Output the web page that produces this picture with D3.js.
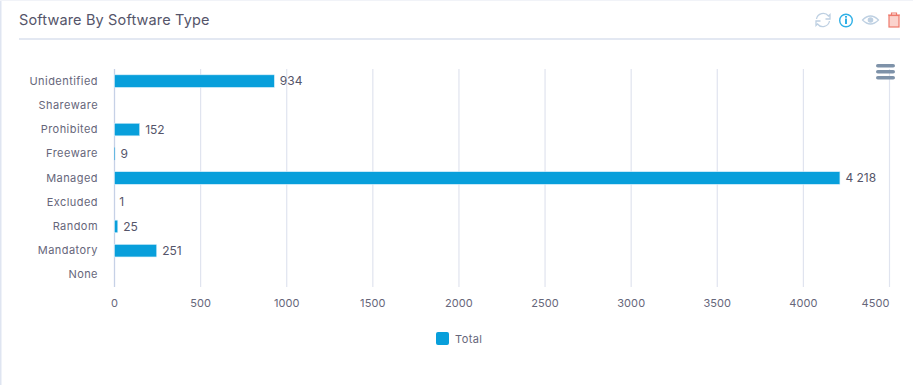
<!DOCTYPE html>
<html>
<head>
<meta charset="utf-8">
<script src="https://cdn.jsdelivr.net/npm/d3@7"></script>
<style>
  html, body { margin: 0; padding: 0; background: #fff; overflow: hidden; }
  text { font-family: Inter, "Open Sans", sans-serif; }
</style>
</head>
<body>
<div id="chart"></div>
<script>
const categories = ["Unidentified", "Shareware", "Prohibited", "Freeware", "Managed", "Excluded", "Random", "Mandatory", "None"];
const totals = [934, 0, 152, 9, 4218, 1, 25, 251, 0];
const valueLabels = ["934", "", "152", "9", "4 218", "1", "25", "251", ""];
const xTicks = [0, 500, 1000, 1500, 2000, 2500, 3000, 3500, 4000, 4500];
const seriesName = "Total";
const title = "Software By Software Type";

const width = 913, height = 385;
const svg = d3.select("#chart").append("svg")
    .attr("width", width).attr("height", height)
    .style("display", "block");

// card edges and header rule
svg.append("rect").attr("x", 0).attr("y", 0).attr("width", 1.5).attr("height", height).attr("fill", "#dfe5f1");
svg.append("rect").attr("x", 0).attr("y", 0).attr("width", width).attr("height", 1).attr("fill", "#f1f3f8");
svg.append("rect").attr("x", 19).attr("y", 38).attr("width", 881).attr("height", 2).attr("fill", "#e3e8f2");

svg.append("text").attr("x", 19).attr("y", 25)
    .attr("font-size", 14.5).attr("fill", "#55556a").attr("letter-spacing", 0.15)
    .text(title);

const x = d3.scaleLinear().domain([0, 4500]).range([114, 889]);
const y = d3.scaleBand().domain(categories).range([69, 287]).paddingInner(0.48).paddingOuter(0.24);

// grid
const grid = svg.append("g");
grid.selectAll("line").data(xTicks).enter().append("line")
    .attr("x1", d => x(d) + 0.5).attr("x2", d => x(d) + 0.5)
    .attr("y1", 69).attr("y2", 287)
    .attr("stroke", d => d === 0 ? "#c6d1e6" : "#e0e4ef")
    .attr("stroke-width", d => d === 0 ? 1.3 : 1.2);

// axes
const xAxis = svg.append("g").attr("transform", "translate(0,287)")
    .call(d3.axisBottom(x).tickValues(xTicks).tickFormat(d3.format("d")).tickSize(0).tickPadding(12));
xAxis.select(".domain").remove();
xAxis.selectAll("text").attr("font-size", 11).attr("fill", "#66667a").attr("letter-spacing", 0.1)
    .style("font-family", "Inter, sans-serif");
// last label is pulled in so it stays inside the plot
xAxis.selectAll("text").filter(d => d === 4500).attr("text-anchor", "end");

const yAxis = svg.append("g").attr("transform", "translate(98,0)")
    .call(d3.axisLeft(y).tickSize(0).tickPadding(0));
yAxis.select(".domain").remove();
yAxis.selectAll("text").attr("font-size", 11).attr("fill", "#66667a").attr("letter-spacing", 0.45)
    .style("font-family", "Inter, sans-serif");

// bars
svg.selectAll(".bar").data(totals).enter().append("rect")
    .attr("class", "bar")
    .attr("x", x(0) + 0.5)
    .attr("y", (d, i) => y(categories[i]))
    .attr("width", d => Math.max(0, x(d) - x(0) - 1))
    .attr("height", y.bandwidth())
    .attr("fill", "#089fdb")
    .attr("stroke", "#d8effa")
    .attr("stroke-width", d => d >= 25 ? 0.6 : 0);

// value labels
svg.selectAll(".val").data(totals).enter().append("text")
    .attr("class", "val")
    .attr("x", d => x(d) + 5)
    .attr("y", (d, i) => y(categories[i]) + y.bandwidth() / 2)
    .attr("dy", "0.35em")
    .attr("font-size", 12)
    .attr("fill", "#55556a")
    .text((d, i) => valueLabels[i]);

// legend
svg.append("rect").attr("x", 436).attr("y", 332).attr("width", 13).attr("height", 13).attr("rx", 2).attr("fill", "#089fdb");
svg.append("text").attr("x", 455).attr("y", 343).attr("font-size", 11).attr("fill", "#66667a").attr("letter-spacing", 0.4).text(seriesName);

// export menu
const menu = svg.append("g").attr("fill", "#7e92a9");
[64, 70, 76].forEach(t => menu.append("rect")
    .attr("x", 876).attr("y", t).attr("width", 19).attr("height", 3.6).attr("rx", 1.8));

// header icons: refresh, info, eye, trash
const refresh = svg.append("g").attr("transform", "translate(823,20)")
    .attr("fill", "none").attr("stroke", "#bed0e2").attr("stroke-width", 1.3);
refresh.append("path").attr("d", "M-6.5,-1 A6.8,6.8 0 0 1 5.5,-4 L7,-5.5 L7,-1 L2.5,-1");
refresh.append("path").attr("d", "M6.5,1 A6.8,6.8 0 0 1 -5.5,4 L-7,5.5 L-7,1 L-2.5,1");

const info = svg.append("g").attr("transform", "translate(846,20.5)");
info.append("circle").attr("r", 6.3).attr("fill", "none").attr("stroke", "#2fb0e6").attr("stroke-width", 1.4);
info.append("rect").attr("x", -1).attr("y", -2).attr("width", 2).attr("height", 5.5).attr("fill", "#2fb0e6");
info.append("rect").attr("x", -1).attr("y", -4.5).attr("width", 2).attr("height", 1.7).attr("fill", "#2fb0e6");

const eye = svg.append("g").attr("transform", "translate(870.5,20)");
eye.append("path").attr("d", "M-8,0 Q0,-8 8,0 Q0,8 -8,0 Z").attr("fill", "none").attr("stroke", "#bed0e2").attr("stroke-width", 1.2);
eye.append("circle").attr("r", 2.8).attr("fill", "#bed0e2");

const trash = svg.append("g").attr("transform", "translate(894,20)");
trash.append("rect").attr("x", -5).attr("y", -4.5).attr("width", 10).attr("height", 11.5).attr("fill", "#fbd3cd").attr("stroke", "#ee7a6c").attr("stroke-width", 1.2);
trash.append("path").attr("d", "M-6,-5 H6 M-2.5,-5 V-7 H2.5 V-5").attr("fill", "none").attr("stroke", "#ee7a6c").attr("stroke-width", 1.2);
</script>
</body>
</html>
